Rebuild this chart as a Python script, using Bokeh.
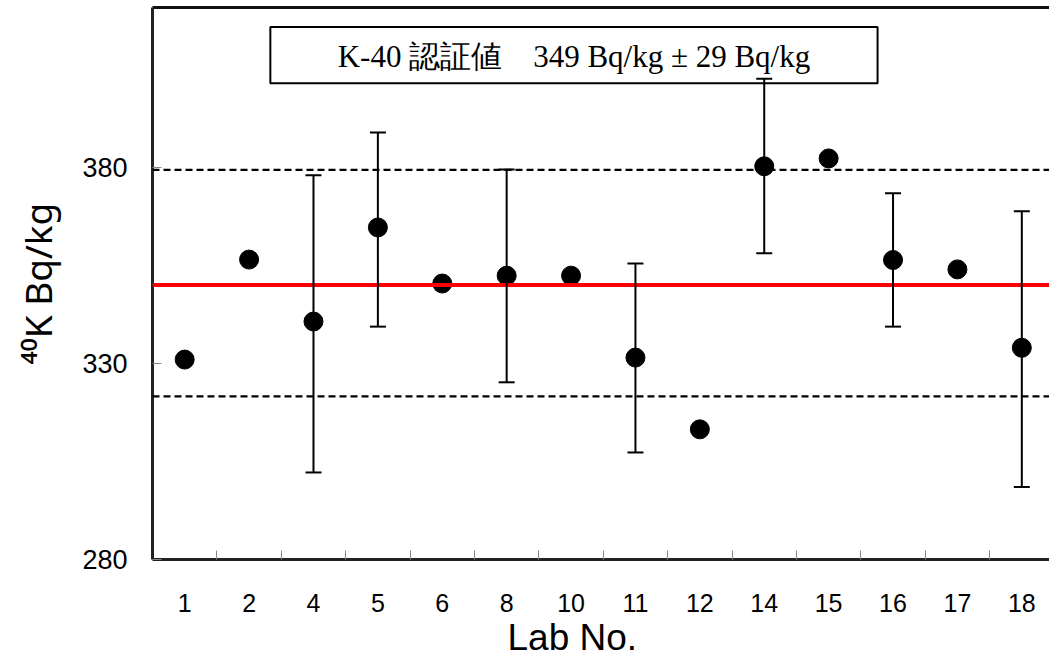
from bokeh.plotting import figure
from bokeh.models import Range1d, FixedTicker, LinearAxis, Whisker, TeeHead, ColumnDataSource, Span, BoxAnnotation, Label, Title
from bokeh.embed import file_html
from bokeh.resources import INLINE

labs = ["1", "2", "4", "5", "6", "8", "10", "11", "12", "14", "15", "16", "17", "18"]
values = [331.0, 356.5, 340.7, 364.7, 350.4, 352.4, 352.4, 331.5, 313.2, 380.3, 382.3, 356.4, 354.0, 334.0]
err_upper = [None, None, 378.0, 388.9, None, 379.5, None, 355.5, None, 402.6, None, 373.4, None, 368.8]
err_lower = [None, None, 302.2, 339.4, None, 325.2, None, 307.3, None, 358.1, None, 339.4, None, 298.5]
y_ticks = [280, 330, 380]
ref_value = 350.0
ref_upper = 379.4
ref_lower = 321.6
title_text = "K-40 認証値　349 Bq/kg ± 29 Bq/kg"
x_title = "Lab No."
y_title = "⁴⁰K Bq/kg"

xs = [i + 0.5 for i in range(len(labs))]

p = figure(width=1049, height=662, x_range=Range1d(0, 13.93), y_range=Range1d(280, 420.8),
           output_backend="svg", toolbar_location=None,
           min_border_left=152, min_border_right=0, min_border_top=7, min_border_bottom=103)
p.outline_line_color = None
p.grid.visible = False
p.background_fill_color = "white"

# x axis
xa = p.xaxis[0]
xa.ticker = FixedTicker(ticks=xs, minor_ticks=list(range(1, len(labs))))
xa.major_label_overrides = {x: l for x, l in zip(xs, labs)}
xa.major_tick_line_color = None
xa.minor_tick_in = 9
xa.minor_tick_out = 0
xa.minor_tick_line_color = "#888888"
xa.axis_line_color = "#222222"
xa.axis_line_width = 3
xa.major_label_text_font = "Liberation Sans"
xa.major_label_text_font_size = "25px"
xa.major_label_text_color = "black"
xa.major_label_standoff = 28

p.add_layout(Title(text=x_title, align="left", offset=355, standoff=0,
                   text_font="Liberation Sans", text_font_size="37px", text_font_style="normal",
                   text_color="black"), "below")

# y axis
ya = p.yaxis[0]
ya.ticker = FixedTicker(ticks=y_ticks)
ya.minor_tick_line_color = None
ya.major_tick_in = 9
ya.major_tick_out = 0
ya.major_tick_line_color = "#888888"
ya.axis_line_color = "#222222"
ya.axis_line_width = 3
ya.major_label_text_font = "Liberation Sans"
ya.major_label_text_font_size = "27px"
ya.major_label_text_color = "black"
ya.major_label_standoff = 25
ya.axis_label = y_title
ya.axis_label_text_font = "Noto Sans"
ya.axis_label_text_font_size = "37px"
ya.axis_label_text_font_style = "normal"
ya.axis_label_text_color = "black"
ya.axis_label_standoff = 16

# top border
top = LinearAxis(ticker=FixedTicker(ticks=[]), axis_line_color="#111111", axis_line_width=3,
                 major_tick_line_color=None, minor_tick_line_color=None,
                 major_label_text_font_size="0px", major_label_standoff=0,
                 major_tick_out=0, minor_tick_out=0)
p.add_layout(top, "above")

# reference lines
p.add_layout(Span(location=ref_value, dimension="width", line_color="#ff0000", line_width=4))
p.add_layout(Span(location=ref_upper, dimension="width", line_color="black", line_width=2.2, line_dash="7 4"))
p.add_layout(Span(location=ref_lower, dimension="width", line_color="black", line_width=2.2, line_dash="7 4"))

# title box
p.add_layout(BoxAnnotation(left=1.83, right=11.26, bottom=401.5, top=415.8, level="annotation",
                           fill_color="white", fill_alpha=1.0, line_color="black", line_alpha=1.0, line_width=2))
p.add_layout(Label(x=6.545, y=408.3, text=title_text, text_align="center", text_baseline="middle",
                   text_font="Liberation Serif", text_font_size="31px", text_color="black"))

# error bars
eb_x = [x for x, u in zip(xs, err_upper) if u is not None]
eb_u = [u for u in err_upper if u is not None]
eb_l = [l for l in err_lower if l is not None]
esrc = ColumnDataSource(dict(x=eb_x, upper=eb_u, lower=eb_l))
p.add_layout(Whisker(base="x", upper="upper", lower="lower", source=esrc, level="annotation",
                     line_color="black", line_width=2,
                     upper_head=TeeHead(size=16, line_width=2, line_color="black"),
                     lower_head=TeeHead(size=16, line_width=2, line_color="black")))

# points
p.scatter(xs, values, size=19, color="black")

open("out.html", "w").write(file_html(p, INLINE))
